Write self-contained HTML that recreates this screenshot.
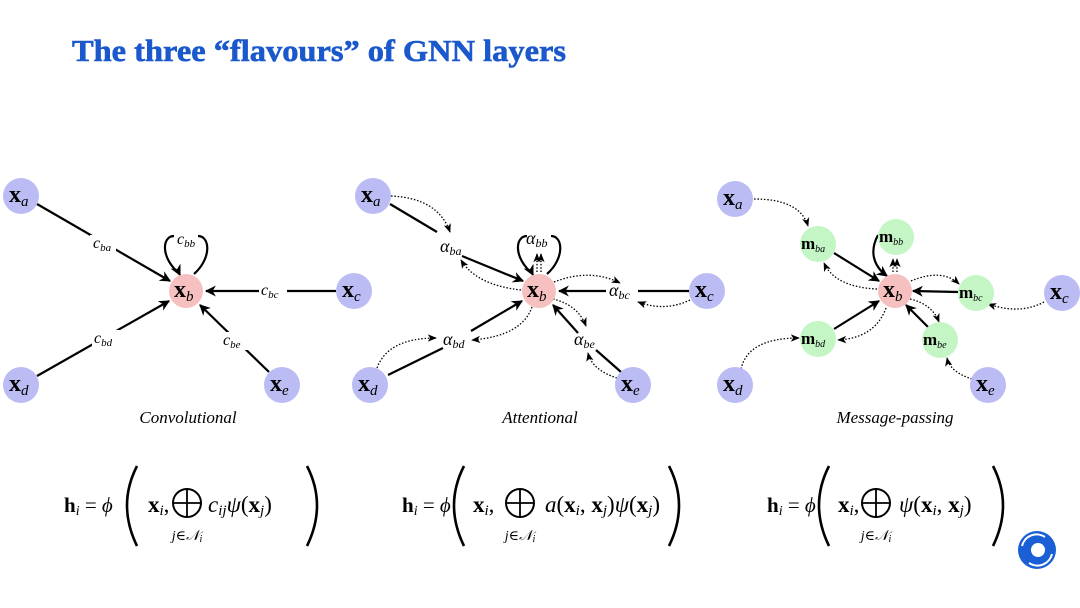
<!DOCTYPE html>
<html><head><meta charset="utf-8"><style>
html,body{margin:0;padding:0;background:#fff;}
svg{display:block}
text{font-family:"Liberation Serif","DejaVu Serif",serif;}
</style></head><body>
<svg width="1080" height="608" viewBox="0 0 1080 608" xmlns="http://www.w3.org/2000/svg">
<defs>
<marker id="ah" viewBox="0 0 10 10" refX="9" refY="5" markerWidth="5" markerHeight="5" orient="auto-start-reverse"><path d="M0,0 L10,5 L0,10 L3,5 z" fill="#000"/></marker>
<marker id="ad" viewBox="0 0 10 10" refX="9" refY="5" markerWidth="7" markerHeight="7" orient="auto"><path d="M0,1 L10,5 L0,9 L2.5,5 z" fill="#000"/></marker>
</defs>
<text x="72" y="61" font-size="31" font-weight="bold" fill="#1a58cc" stroke="#1a58cc" stroke-width="0.6" textLength="494" lengthAdjust="spacingAndGlyphs">The three “flavours” of GNN layers</text>

<!-- ========== Panel 1 ========== -->
<g stroke="#000" stroke-width="2.2" fill="none">
<line x1="37" y1="204" x2="170" y2="281" marker-end="url(#ah)"/>
<line x1="336" y1="291" x2="206" y2="291" marker-end="url(#ah)"/>
<line x1="37" y1="376" x2="169" y2="301" marker-end="url(#ah)"/>
<line x1="269" y1="372" x2="200" y2="305" marker-end="url(#ah)"/>
<path d="M180,274 C160,258 162,236 174,236 M198,236 C210,236 212,258 194,274"/>
<path d="M178,271 L180,275" marker-end="url(#ah)"/>
</g>
<g fill="#fff">
<rect x="90" y="235" width="26" height="18"/><rect x="259" y="283" width="28" height="18"/>
<rect x="92" y="330" width="28" height="18"/><rect x="222" y="332" width="26" height="18"/>
</g>
<g font-style="italic" font-size="16">
<text x="93" y="248">c<tspan font-size="11" dy="3">ba</tspan></text>
<text x="177" y="244">c<tspan font-size="11" dy="3">bb</tspan></text>
<text x="261" y="295">c<tspan font-size="11" dy="3">bc</tspan></text>
<text x="94" y="343">c<tspan font-size="11" dy="3">bd</tspan></text>
<text x="223" y="345">c<tspan font-size="11" dy="3">be</tspan></text>
</g>

<!-- ========== Panel 2 ========== -->
<g stroke="#000" stroke-width="2.2" fill="none">
<line x1="390" y1="204" x2="437" y2="232"/>
<line x1="462" y1="256" x2="523" y2="281" marker-end="url(#ah)"/>
<line x1="689" y1="291" x2="638" y2="291"/>
<line x1="606" y1="291" x2="559" y2="291" marker-end="url(#ah)"/>
<line x1="388" y1="375" x2="443" y2="348"/>
<line x1="471" y1="331" x2="522" y2="301" marker-end="url(#ah)"/>
<line x1="621" y1="372" x2="596" y2="350"/>
<line x1="578" y1="333" x2="553" y2="305" marker-end="url(#ah)"/>
<path d="M533,274 C513,258 515,236 527,236 M551,236 C563,236 565,258 547,274"/>
<path d="M531,271 L533,275" marker-end="url(#ah)"/>
</g>
<g stroke="#000" stroke-width="1.3" fill="none" stroke-dasharray="1.5 1.8" marker-end="url(#ad)">
<path d="M391,196 Q438,198 450,232"/>
<path d="M521,290 Q476,285 461,260"/>
<path d="M554,282 Q590,268 620,283"/>
<path d="M690,300 Q665,312 638,302"/>
<path d="M377,368 Q388,338 436,338"/>
<path d="M532,307 Q522,336 472,340"/>
<path d="M553,299 Q578,305 586,326"/>
<path d="M617,378 Q592,370 588,353"/>
<path d="M537,272 L537,254"/><path d="M541,272 L541,254"/>
</g>
<g font-style="italic" font-size="18">
<text x="440" y="252">α<tspan font-size="12" dy="3">ba</tspan></text>
<text x="526" y="244">α<tspan font-size="12" dy="3">bb</tspan></text>
<text x="609" y="296">α<tspan font-size="12" dy="3">bc</tspan></text>
<text x="443" y="345">α<tspan font-size="12" dy="3">bd</tspan></text>
<text x="574" y="345">α<tspan font-size="12" dy="3">be</tspan></text>
</g>

<!-- ========== Panel 3 ========== -->
<g stroke="#000" stroke-width="2.2" fill="none">
<line x1="834" y1="253" x2="879" y2="281" marker-end="url(#ah)"/>
<line x1="958" y1="292" x2="913" y2="291" marker-end="url(#ah)"/>
<line x1="834" y1="329" x2="879" y2="301" marker-end="url(#ah)"/>
<line x1="928" y1="327" x2="906" y2="305" marker-end="url(#ah)"/>
<path d="M878,235 C870,250 872,265 887,276" marker-end="url(#ah)"/>
</g>
<g stroke="#000" stroke-width="1.3" fill="none" stroke-dasharray="1.5 1.8" marker-end="url(#ad)">
<path d="M754,199 Q800,199 808,226"/>
<path d="M877,289 Q835,287 824,263"/>
<path d="M911,281 Q942,268 959,284"/>
<path d="M1044,302 Q1020,315 988,304"/>
<path d="M741,369 Q748,338 799,338"/>
<path d="M886,308 Q875,338 838,340"/>
<path d="M910,299 Q932,304 939,322"/>
<path d="M972,379 Q950,372 947,358"/>
<path d="M893,272 L893,259"/><path d="M897,272 L897,259"/>
</g>

<!-- nodes -->
<g fill="#bcbcf5">
<circle cx="21" cy="196" r="18"/><circle cx="21" cy="385" r="18"/><circle cx="354" cy="291" r="18"/><circle cx="282" cy="385" r="18"/>
<circle cx="373" cy="196" r="18"/><circle cx="370" cy="385" r="18"/><circle cx="707" cy="291" r="18"/><circle cx="633" cy="385" r="18"/>
<circle cx="735" cy="199" r="18"/><circle cx="735" cy="385" r="18"/><circle cx="1062" cy="293" r="18"/><circle cx="988" cy="385" r="18"/>
</g>
<g fill="#f7c0c0"><circle cx="186" cy="291" r="17"/><circle cx="539" cy="291" r="17"/><circle cx="895" cy="291" r="17"/></g>
<g fill="#c4f5c4">
<circle cx="818" cy="244" r="18"/><circle cx="896" cy="237" r="18"/><circle cx="976" cy="293" r="18"/><circle cx="818" cy="339" r="18"/><circle cx="940" cy="340" r="18"/>
</g>
<g font-size="24" font-weight="bold">
<text x="9" y="202">x<tspan font-size="15" font-style="italic" font-weight="normal" dy="4">a</tspan></text>
<text x="9" y="391">x<tspan font-size="15" font-style="italic" font-weight="normal" dy="4">d</tspan></text>
<text x="342" y="297">x<tspan font-size="15" font-style="italic" font-weight="normal" dy="4">c</tspan></text>
<text x="270" y="391">x<tspan font-size="15" font-style="italic" font-weight="normal" dy="4">e</tspan></text>
<text x="174" y="297">x<tspan font-size="15" font-style="italic" font-weight="normal" dy="4">b</tspan></text>
<text x="361" y="202">x<tspan font-size="15" font-style="italic" font-weight="normal" dy="4">a</tspan></text>
<text x="358" y="391">x<tspan font-size="15" font-style="italic" font-weight="normal" dy="4">d</tspan></text>
<text x="695" y="297">x<tspan font-size="15" font-style="italic" font-weight="normal" dy="4">c</tspan></text>
<text x="621" y="391">x<tspan font-size="15" font-style="italic" font-weight="normal" dy="4">e</tspan></text>
<text x="527" y="297">x<tspan font-size="15" font-style="italic" font-weight="normal" dy="4">b</tspan></text>
<text x="723" y="205">x<tspan font-size="15" font-style="italic" font-weight="normal" dy="4">a</tspan></text>
<text x="723" y="391">x<tspan font-size="15" font-style="italic" font-weight="normal" dy="4">d</tspan></text>
<text x="1050" y="299">x<tspan font-size="15" font-style="italic" font-weight="normal" dy="4">c</tspan></text>
<text x="976" y="391">x<tspan font-size="15" font-style="italic" font-weight="normal" dy="4">e</tspan></text>
<text x="883" y="297">x<tspan font-size="15" font-style="italic" font-weight="normal" dy="4">b</tspan></text>
</g>
<g font-size="17" font-weight="bold">
<text x="801" y="249">m<tspan font-size="10" font-style="italic" font-weight="normal" dy="3">ba</tspan></text>
<text x="879" y="242">m<tspan font-size="10" font-style="italic" font-weight="normal" dy="3">bb</tspan></text>
<text x="959" y="298">m<tspan font-size="10" font-style="italic" font-weight="normal" dy="3">bc</tspan></text>
<text x="801" y="344">m<tspan font-size="10" font-style="italic" font-weight="normal" dy="3">bd</tspan></text>
<text x="923" y="345">m<tspan font-size="10" font-style="italic" font-weight="normal" dy="3">be</tspan></text>
</g>

<g font-style="italic" font-size="17" text-anchor="middle">
<text x="188" y="423">Convolutional</text>
<text x="540" y="423">Attentional</text>
<text x="895" y="423">Message-passing</text>
</g>

<!-- formulas -->
<g font-size="23">
<g>
<text x="64" y="512" font-size="21"><tspan font-weight="bold">h</tspan><tspan font-style="italic" font-size="14" dy="3">i</tspan><tspan dy="-3"> = </tspan><tspan font-style="italic">ϕ</tspan></text>
<path d="M137,466 Q117,505 137,546" stroke="#000" stroke-width="2.6" fill="none"/>
<text x="148" y="512"><tspan font-weight="bold">x</tspan><tspan font-style="italic" font-size="15" dy="3">i</tspan><tspan dy="-3">,</tspan></text>
<circle cx="187" cy="503" r="14" fill="none" stroke="#000" stroke-width="2"/><path d="M173,503 H201 M187,489 V517" stroke="#000" stroke-width="1.8"/>
<text x="187" y="540" font-size="14" font-style="italic" text-anchor="middle">j∈𝒩<tspan font-size="10" dy="2">i</tspan></text>
<text x="208" y="512"><tspan font-style="italic">c</tspan><tspan font-style="italic" font-size="15" dy="3">ij</tspan><tspan font-style="italic" dy="-3">ψ</tspan>(<tspan font-weight="bold">x</tspan><tspan font-style="italic" font-size="15" dy="3">j</tspan><tspan dy="-3">)</tspan></text>
<path d="M307,466 Q327,505 307,546" stroke="#000" stroke-width="2.6" fill="none"/>
</g>
<g>
<text x="402" y="512" font-size="21"><tspan font-weight="bold">h</tspan><tspan font-style="italic" font-size="14" dy="3">i</tspan><tspan dy="-3"> = </tspan><tspan font-style="italic">ϕ</tspan></text>
<path d="M464,466 Q444,505 464,546" stroke="#000" stroke-width="2.6" fill="none"/>
<text x="473" y="512"><tspan font-weight="bold">x</tspan><tspan font-style="italic" font-size="15" dy="3">i</tspan><tspan dy="-3">,</tspan></text>
<circle cx="520" cy="503" r="14" fill="none" stroke="#000" stroke-width="2"/><path d="M506,503 H534 M520,489 V517" stroke="#000" stroke-width="1.8"/>
<text x="520" y="540" font-size="14" font-style="italic" text-anchor="middle">j∈𝒩<tspan font-size="10" dy="2">i</tspan></text>
<text x="545" y="512"><tspan font-style="italic">a</tspan>(<tspan font-weight="bold">x</tspan><tspan font-style="italic" font-size="15" dy="3">i</tspan><tspan dy="-3">, </tspan><tspan font-weight="bold">x</tspan><tspan font-style="italic" font-size="15" dy="3">j</tspan><tspan dy="-3">)</tspan><tspan font-style="italic">ψ</tspan>(<tspan font-weight="bold">x</tspan><tspan font-style="italic" font-size="15" dy="3">j</tspan><tspan dy="-3">)</tspan></text>
<path d="M669,466 Q689,505 669,546" stroke="#000" stroke-width="2.6" fill="none"/>
</g>
<g>
<text x="767" y="512" font-size="21"><tspan font-weight="bold">h</tspan><tspan font-style="italic" font-size="14" dy="3">i</tspan><tspan dy="-3"> = </tspan><tspan font-style="italic">ϕ</tspan></text>
<path d="M829,466 Q809,505 829,546" stroke="#000" stroke-width="2.6" fill="none"/>
<text x="838" y="512"><tspan font-weight="bold">x</tspan><tspan font-style="italic" font-size="15" dy="3">i</tspan><tspan dy="-3">,</tspan></text>
<circle cx="876" cy="503" r="14" fill="none" stroke="#000" stroke-width="2"/><path d="M862,503 H890 M876,489 V517" stroke="#000" stroke-width="1.8"/>
<text x="876" y="540" font-size="14" font-style="italic" text-anchor="middle">j∈𝒩<tspan font-size="10" dy="2">i</tspan></text>
<text x="899" y="512"><tspan font-style="italic">ψ</tspan>(<tspan font-weight="bold">x</tspan><tspan font-style="italic" font-size="15" dy="3">i</tspan><tspan dy="-3">, </tspan><tspan font-weight="bold">x</tspan><tspan font-style="italic" font-size="15" dy="3">j</tspan><tspan dy="-3">)</tspan></text>
<path d="M993,466 Q1013,505 993,546" stroke="#000" stroke-width="2.6" fill="none"/>
</g>
</g>

<!-- logo -->
<g transform="translate(1037,550)">
<circle r="19" fill="#1a5fd6"/>
<circle cx="1" cy="0" r="7" fill="#fff"/>
<path d="M-15,-4 A15,15 0 0 1 8,-13" stroke="#fff" stroke-width="2" fill="none"/>
<path d="M15,4 A15,15 0 0 1 -8,13" stroke="#fff" stroke-width="2" fill="none"/>
</g>
</svg>
</body></html>
